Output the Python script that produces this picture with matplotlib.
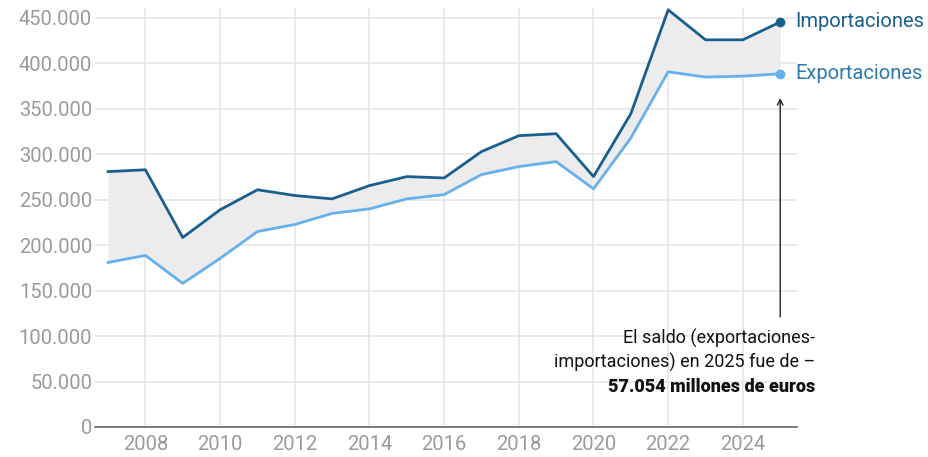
import matplotlib.pyplot as plt
from matplotlib.ticker import FuncFormatter

years = list(range(2007, 2026))
importaciones = [281000, 283000, 208500, 239000, 261000, 254700, 251000, 265600,
                 275500, 274000, 303000, 320500, 322700, 275500, 344700, 459000,
                 426000, 426000, 445600]
exportaciones = [181000, 188800, 158000, 185500, 215000, 222800, 235000, 240000,
                 251000, 255700, 277700, 286500, 292000, 262000, 318000, 390800,
                 385000, 386000, 388600]

y_ticks = list(range(0, 450001, 50000))
x_ticks = list(range(2008, 2025, 2))
nota = ['El saldo (exportaciones-',
        'importaciones) en 2025 fue de \u2013',
        '57.054 millones de euros']

dark = '#195f8e'
light = '#68afee'
grey = '#9a9a9a'

plt.rcParams['font.family'] = ['Roboto', 'DejaVu Sans']

fig = plt.figure(figsize=(9.29, 4.57), dpi=100)
ax = fig.add_axes([95 / 929, 30 / 457, 702 / 929, 419 / 457])

ax.fill_between(years, exportaciones, importaciones, color='#ececec', lw=0, zorder=1)
ax.plot(years, importaciones, color=dark, lw=2, zorder=3, clip_on=False)
ax.plot(years, exportaciones, color=light, lw=2, zorder=3, clip_on=False)
ax.plot(years[-1], importaciones[-1], 'o', color=dark, ms=6, zorder=4, clip_on=False)
ax.plot(years[-1], exportaciones[-1], 'o', color=light, ms=6, zorder=4, clip_on=False)

ax.text(2025.4, importaciones[-1], 'Importaciones', color=dark, fontsize=14.5,
        va='center', ha='left')
ax.text(2025.4, exportaciones[-1], 'Exportaciones', color='#2f78b0', fontsize=14.5,
        va='center', ha='left')

ax.annotate('', xy=(2025, 365000), xytext=(2025, 118000),
            arrowprops=dict(arrowstyle='->', color='#222222', lw=1))
# three lines of the note, spaced evenly
for txt, yv, w in zip(nota, [97900, 71500, 44000], ['normal', 'normal', 900]):
    ax.text(2025.93, yv, txt, ha='right', va='center', fontsize=13,
            color='#111111', fontweight=w)

ax.set_xlim(2006.65, 2025.45)
ax.set_ylim(0, 461000)
ax.set_yticks(y_ticks)
ax.set_xticks(x_ticks)
ax.yaxis.set_major_formatter(FuncFormatter(lambda v, p: f'{int(v):,}'.replace(',', '.')))
ax.grid(True, color='#e6e6e6', lw=1.2, zorder=0)
ax.set_axisbelow(True)
for s in ['top', 'right', 'left']:
    ax.spines[s].set_visible(False)
ax.spines['bottom'].set_color('#666666')
ax.spines['bottom'].set_linewidth(1.2)
ax.tick_params(axis='both', length=0, labelsize=14.5, labelcolor=grey)
ax.tick_params(axis='y', pad=2)
ax.tick_params(axis='x', pad=6)

fig.savefig('out.png', dpi=100)
